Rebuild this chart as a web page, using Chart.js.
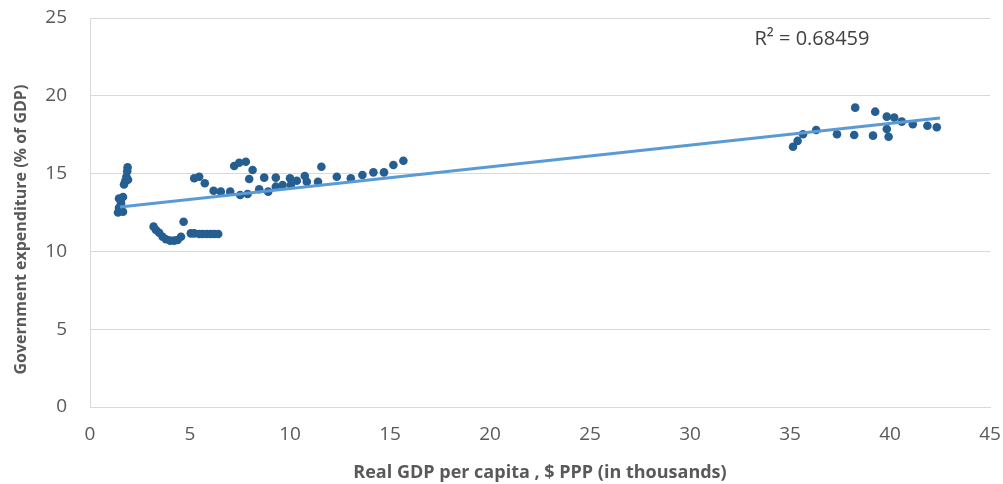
<!DOCTYPE html>
<html>
<head>
<meta charset="utf-8">
<script src="https://cdn.jsdelivr.net/npm/chart.js@4"></script>
<style>
    html, body { margin: 0; padding: 0; background: #fff; }
    #wrap { width: 1003px; height: 484px; position: relative; }
</style>
</head>
<body>
<div id="wrap"><canvas id="gdpChart"></canvas></div>
<script>
// GDP per capita (thousands, $ PPP) and government expenditure (% of GDP)
const gdpPerCapita = [
    1.88, 1.86, 1.82, 1.76, 1.70, 1.90, 1.65, 1.45, 1.55, 1.45, 1.40, 1.65,
    3.18, 3.30, 3.46, 3.63, 3.80, 4.01, 4.21, 4.38, 4.55, 4.68, 5.04, 5.21, 5.46, 5.63, 5.84, 6.04, 6.21, 6.41,
    5.21, 5.46, 5.74, 6.18, 6.54, 7.01, 7.21, 7.46, 7.79, 8.13, 7.96, 7.51, 7.88, 8.71, 8.46, 8.91,
    9.29, 9.29, 9.63, 10.00, 10.04, 10.34, 10.74, 10.84, 11.40, 11.57,
    12.34, 13.04, 13.62, 14.17, 14.70, 15.17, 15.67,
    35.15, 35.38, 35.65, 36.31, 37.35, 38.26, 38.21, 39.26, 39.15, 39.84, 40.21, 39.84, 39.93, 40.59, 41.14, 41.87, 42.34
];
const govExpenditure = [
    15.40, 15.15, 14.80, 14.50, 14.30, 14.60, 13.50, 13.40, 13.10, 12.80, 12.50, 12.55,
    11.59, 11.38, 11.20, 10.94, 10.78, 10.69, 10.69, 10.73, 10.94, 11.91, 11.16, 11.16, 11.12, 11.12, 11.12, 11.12, 11.12, 11.12,
    14.70, 14.80, 14.38, 13.90, 13.84, 13.84, 15.49, 15.70, 15.76, 15.23, 14.65, 13.62, 13.69, 14.74, 13.99, 13.84,
    14.74, 14.16, 14.27, 14.70, 14.27, 14.54, 14.85, 14.48, 14.48, 15.44,
    14.80, 14.70, 14.91, 15.08, 15.08, 15.55, 15.83,
    16.73, 17.10, 17.53, 17.80, 17.53, 19.24, 17.48, 18.98, 17.44, 18.66, 18.60, 17.87, 17.37, 18.34, 18.17, 18.08, 17.98
];

// linear trendline ends as drawn in the picture
const trendX = [1.5, 42.5];
const trendY = [12.85, 18.57];
const rSquared = 'R² = 0.68459';

const xTicks = [0, 5, 10, 15, 20, 25, 30, 35, 40, 45];
const yTicks = [0, 5, 10, 15, 20, 25];
const yTitle = 'Government expenditure (% of GDP)';

const tickColor = '#595959';
const fontFamily = '"Open Sans", sans-serif';

// R² label and the y-axis title (sits a bit below the axis middle in the original)
const extraText = {
    id: 'extraText',
    afterDatasetsDraw(chart) {
        const { ctx, scales } = chart;
        ctx.save();
        ctx.font = '20px ' + fontFamily;
        ctx.fillStyle = '#404040';
        ctx.textAlign = 'center';
        ctx.textBaseline = 'middle';
        ctx.fillText(rSquared, scales.x.getPixelForValue(36.1), scales.y.getPixelForValue(23.6));

        ctx.font = 'bold 16px ' + fontFamily;
        ctx.fillStyle = tickColor;
        ctx.translate(21, scales.y.getPixelForValue(11.4));
        ctx.rotate(-Math.PI / 2);
        ctx.fillText(yTitle, 0, 0);
        ctx.restore();
    }
};

const ctx = document.getElementById('gdpChart').getContext('2d');
new Chart(ctx, {
    type: 'scatter',
    data: {
        datasets: [
            {
                type: 'line',
                label: 'Linear trend',
                data: trendX.map((x, i) => ({ x: x, y: trendY[i] })),
                borderColor: '#5B9BD5',
                borderWidth: 3,
                pointRadius: 0,
                fill: false,
                order: 0
            },
            {
                label: 'Government expenditure',
                data: gdpPerCapita.map((x, i) => ({ x: x, y: govExpenditure[i] })),
                backgroundColor: '#255E91',
                borderColor: '#255E91',
                pointRadius: 4.3,
                borderWidth: 0,
                order: 1
            }
        ]
    },
    options: {
        responsive: true,
        maintainAspectRatio: false,
        animation: false,
        layout: { padding: { top: 18, right: 13, left: 0, bottom: 0 } },
        plugins: { legend: { display: false }, tooltip: { enabled: false } },
        scales: {
            x: {
                type: 'linear',
                min: 0, max: 45,
                afterBuildTicks: s => { s.ticks = xTicks.map(v => ({ value: v })); },
                afterFit: s => { s.height = 77; s.paddingLeft = 0; s.paddingRight = 0; },
                grid: { display: false, drawTicks: false },
                border: { display: true, color: '#d9d9d9', width: 1 },
                ticks: { color: tickColor, font: { family: fontFamily, size: 19 }, padding: 16 },
                title: {
                    display: true,
                    text: 'Real GDP per capita , $ PPP (in thousands)',
                    color: tickColor,
                    font: { family: fontFamily, size: 18, weight: 'bold' },
                    padding: { top: 0, bottom: 0 }
                }
            },
            y: {
                min: 0, max: 25,
                afterBuildTicks: s => { s.ticks = yTicks.map(v => ({ value: v })); },
                afterFit: s => { s.width = 90; s.paddingTop = 0; s.paddingBottom = 0; },
                grid: { color: '#d9d9d9', drawTicks: false },
                border: { display: true, color: '#d9d9d9', width: 1 },
                ticks: { color: tickColor, font: { family: fontFamily, size: 19 }, padding: 23 },
                title: { display: false }
            }
        }
    },
    plugins: [extraText]
});
</script>
</body>
</html>
